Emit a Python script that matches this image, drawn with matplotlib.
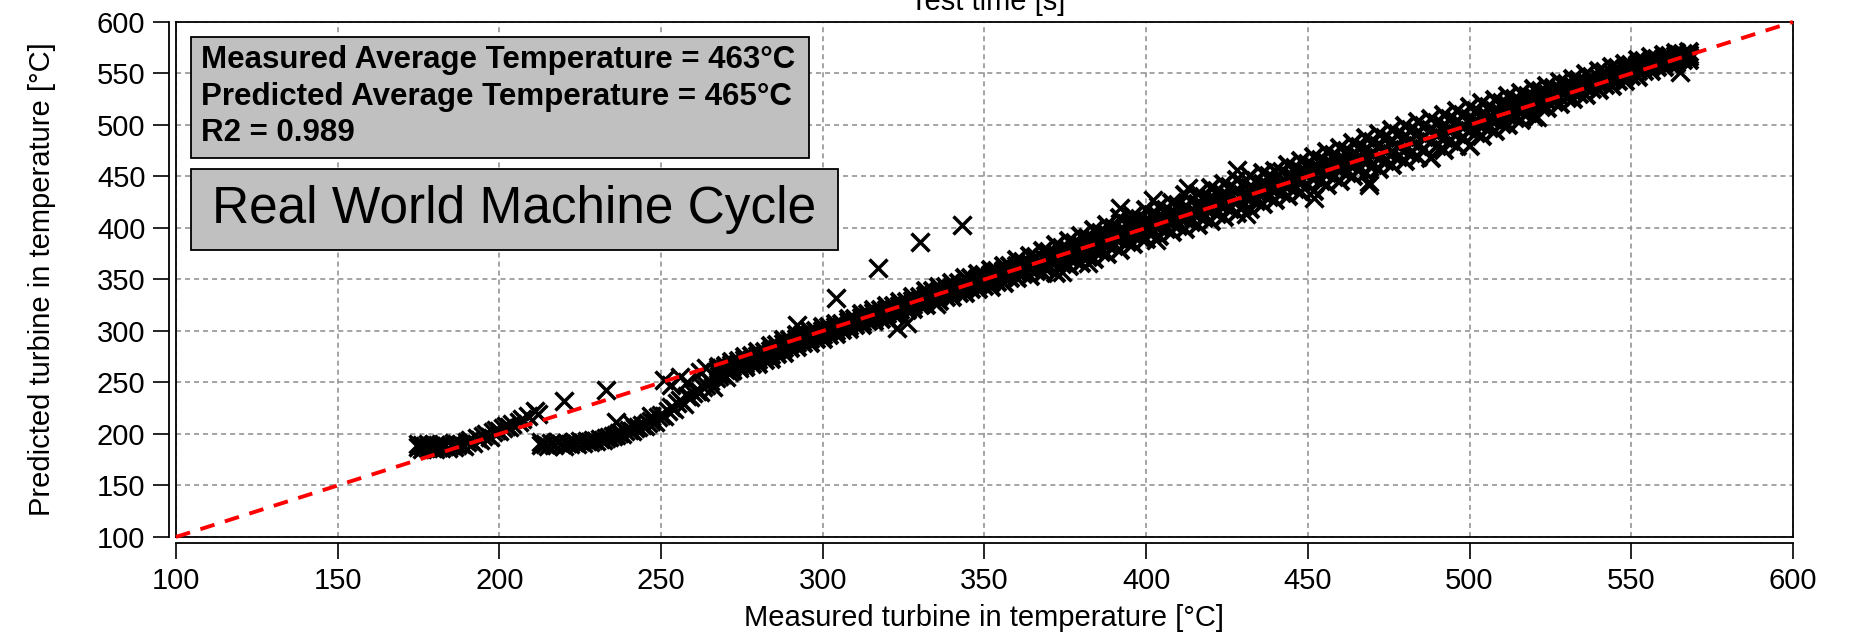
import matplotlib
matplotlib.use('Agg')
import matplotlib.pyplot as plt
from matplotlib.patches import Rectangle

plt.rcParams['font.family'] = 'Liberation Sans'

# main band: measured temperature columns and four rows of predicted values
band_meas = [268, 272, 276, 280, 284, 288, 292, 296, 300, 304,
             308, 312, 316, 320, 324, 328, 332, 336, 340, 344,
             348, 352, 356, 360, 364, 368, 372, 376, 380, 384,
             388, 392, 396, 400, 404, 408, 412, 416, 420, 424,
             428, 432, 436, 440, 444, 448, 452, 456, 460, 464,
             468, 472, 476, 480, 484, 488, 492, 496, 500, 504,
             508, 512, 516, 520, 524, 528, 532, 536, 540, 544,
             548, 552, 556, 560, 564, 568]
band_lo = [259, 262, 265, 268, 273, 279, 284, 288, 292, 297,
           302, 306, 310, 312, 316, 321, 325, 329, 333, 337,
           341, 343, 347, 351, 353, 356, 356, 363, 366, 370,
           375, 379, 384, 389, 392, 396, 399, 403, 407, 411,
           415, 418, 423, 427, 431, 435, 436, 442, 446, 450,
           453, 457, 461, 465, 469, 468, 476, 480, 480, 489,
           494, 500, 505, 508, 516, 520, 525, 529, 534, 538,
           543, 547, 552, 556, 560, 563]
band_ml = [261, 265, 268, 272, 277, 283, 288, 292, 296, 300,
           305, 309, 313, 316, 320, 325, 330, 334, 338, 342,
           346, 348, 352, 357, 360, 363, 367, 371, 375, 379,
           384, 388, 393, 398, 401, 405, 409, 413, 418, 422,
           426, 429, 433, 437, 441, 445, 449, 453, 457, 461,
           464, 468, 472, 476, 480, 483, 487, 491, 494, 500,
           504, 509, 514, 519, 523, 527, 532, 536, 540, 544,
           548, 552, 557, 560, 563, 566]
band_mu = [263, 267, 272, 276, 281, 287, 292, 296, 300, 304,
           309, 313, 317, 320, 324, 329, 334, 338, 342, 346,
           350, 354, 358, 363, 366, 371, 375, 379, 383, 389,
           394, 398, 403, 408, 411, 415, 419, 423, 428, 432,
           436, 439, 443, 447, 451, 455, 459, 463, 467, 471,
           476, 480, 484, 488, 492, 495, 499, 503, 506, 510,
           514, 519, 522, 527, 531, 535, 538, 542, 546, 550,
           554, 558, 561, 564, 567, 568]
band_hi = [265, 270, 275, 280, 285, 291, 296, 300, 304, 307,
           312, 316, 320, 324, 328, 333, 339, 343, 347, 351,
           355, 359, 363, 369, 373, 378, 383, 387, 392, 398,
           403, 410, 412, 417, 420, 424, 432, 433, 439, 443,
           447, 450, 453, 455, 461, 465, 469, 474, 478, 482,
           487, 491, 495, 499, 503, 506, 510, 514, 517, 521,
           524, 528, 531, 535, 538, 542, 545, 549, 552, 556,
           559, 563, 566, 568, 570, 571]

# in-between columns of the band, three rows
band2_meas = [270, 274, 278, 282, 286, 290, 294, 298, 302, 306,
              310, 314, 318, 322, 326, 330, 334, 338, 342, 346,
              350, 354, 358, 362, 366, 370, 374, 378, 382, 386,
              390, 394, 398, 402, 406, 410, 414, 418, 422, 426,
              430, 434, 438, 442, 446, 450, 454, 458, 462, 466,
              470, 474, 478, 482, 486, 490, 494, 498, 502, 506,
              510, 514, 518, 522, 526, 530, 534, 538, 542, 546,
              550, 554, 558, 562, 566]
band2_lo = [262, 265, 268, 272, 278, 283, 288, 292, 296, 301,
            306, 310, 312, 316, 320, 325, 329, 333, 337, 341,
            344, 348, 351, 355, 358, 361, 365, 369, 372, 377,
            382, 386, 391, 395, 399, 402, 406, 410, 414, 418,
            421, 426, 430, 434, 438, 442, 446, 449, 453, 457,
            461, 465, 469, 473, 477, 480, 484, 488, 492, 497,
            501, 507, 512, 517, 522, 526, 530, 535, 539, 543,
            548, 552, 556, 559, 563]
band2_mid = [264, 268, 272, 276, 282, 287, 292, 296, 300, 304,
             309, 313, 316, 320, 324, 329, 334, 338, 342, 346,
             349, 353, 357, 361, 365, 369, 373, 377, 381, 386,
             391, 395, 400, 404, 408, 412, 416, 420, 425, 429,
             432, 436, 440, 444, 448, 452, 456, 460, 464, 468,
             472, 476, 480, 484, 488, 491, 495, 499, 503, 507,
             511, 516, 520, 525, 529, 533, 537, 541, 545, 549,
             553, 557, 560, 563, 566]
band2_hi = [266, 271, 276, 280, 286, 291, 296, 300, 304, 307,
            312, 316, 320, 324, 328, 333, 339, 343, 347, 351,
            354, 358, 363, 367, 372, 377, 381, 385, 390, 395,
            400, 404, 409, 413, 417, 422, 426, 430, 436, 440,
            443, 446, 450, 454, 458, 462, 466, 471, 475, 479,
            483, 487, 491, 495, 499, 502, 506, 510, 514, 517,
            521, 525, 528, 533, 536, 540, 544, 547, 551, 555,
            558, 562, 564, 567, 569]

# stray points around the band
stray_meas = [374, 382, 403, 431, 452, 469, 469, 521, 565, 335, 323, 326,
              392, 402, 413, 428]
stray_pred = [357, 366, 388, 414, 429, 442, 445, 508, 551, 326, 303, 308,
              419, 427, 439, 456]

# upper left track
low_a_meas = [175, 175, 176, 177, 178, 178, 179, 180, 180, 181,
              182, 182, 183, 184, 185, 186, 186, 187, 188, 189,
              190, 191, 192, 193, 194, 195, 196, 197, 198, 199,
              200, 201, 202, 203, 204, 206, 207, 209, 211, 212,
              220, 233, 176, 179, 183]
low_a_pred = [187, 190, 185, 188, 186, 190, 187, 185, 189, 187,
              186, 190, 188, 186, 189, 187, 191, 189, 190, 188,
              192, 194, 191, 196, 194, 198, 200, 197, 202, 204,
              203, 206, 208, 207, 210, 212, 215, 217, 222, 219,
              232, 243, 189, 188, 189]

# lower track
low_b_meas = [213, 213, 214, 215, 216, 217, 218, 219, 220, 221,
              222, 223, 224, 225, 226, 227, 228, 229, 230, 231,
              232, 233, 234, 235, 236, 237, 238, 239, 240, 241,
              242, 243, 244, 245, 246, 247, 248, 249, 250, 251,
              252, 253, 254, 255, 256, 257, 258, 259, 260, 261,
              262, 263, 264, 265, 266, 267, 268, 269, 270, 271,
              272, 274, 276, 251, 253, 256, 258, 261, 262, 264,
              236, 241, 247]
low_b_pred = [189, 192, 190, 188, 191, 189, 192, 190, 188, 191,
              190, 192, 190, 193, 191, 193, 192, 194, 193, 195,
              194, 196, 197, 198, 199, 201, 200, 203, 204, 203,
              206, 207, 209, 208, 211, 213, 212, 216, 218, 217,
              222, 226, 224, 230, 233, 229, 237, 236, 240, 243,
              241, 246, 248, 251, 246, 254, 256, 258, 255, 260,
              262, 264, 266, 252, 248, 255, 250, 242, 260, 264,
              212, 210, 217]

# isolated outliers above the line
out_meas = [292, 304, 317, 330, 343]
out_pred = [306, 332, 361, 386, 403]

ideal = [100, 600]
ticks = [100, 150, 200, 250, 300, 350, 400, 450, 500, 550, 600]

fig = plt.figure(figsize=(18.52, 6.36), dpi=100)
ax = fig.add_axes([0.0950, 0.1557, 0.8731, 0.8098])

mk = dict(ls='none', marker='x', color='k', ms=13, mew=2.5)
for row in (band_lo, band_ml, band_mu, band_hi):
    ax.plot(band_meas, row, **{**mk, 'mew': 2.9})
for row in (band2_lo, band2_mid, band2_hi):
    ax.plot(band2_meas, row, **{**mk, 'mew': 2.9})
ax.plot(stray_meas, stray_pred, **mk)
ax.plot(low_a_meas, low_a_pred, **mk)
ax.plot(low_b_meas, low_b_pred, **mk)
ax.plot(out_meas, out_pred, **mk)

ax.plot(ideal, ideal, color='red', lw=2.8, ls=(0, (3.8, 2.8)), zorder=5, clip_on=False)

ax.set_xlim(100, 600)
ax.set_ylim(100, 600)
ax.set_xticks(ticks)
ax.set_yticks(ticks)
ax.grid(True, color='0.55', linestyle=(0, (3.3, 2.6)), linewidth=1.1)
ax.set_axisbelow(True)

for s in ax.spines.values():
    s.set_linewidth(1.3)
ax.spines['left'].set_position(('outward', 5))
ax.spines['bottom'].set_position(('outward', 4.3))
ax.axvline(100, color='k', lw=1.3, clip_on=False)
ax.axhline(100, color='k', lw=1.3, clip_on=False)
ax.tick_params(direction='out', length=11.5, width=1.2, labelsize=21, pad=5.5,
               top=False, right=False)

ax.set_xlabel('Measured turbine in temperature [°C]', fontsize=21, labelpad=7)
ax.set_ylabel('Predicted turbine in temperature [°C]', fontsize=21, labelpad=29)
fig.text(0.5335, 0.9843, 'Test time [s]', ha='center', va='baseline', fontsize=21)

# info boxes
ax.add_patch(Rectangle((0.0093, 0.7359), 0.3822, 0.2350, transform=ax.transAxes,
                       facecolor='#c0c0c0', edgecolor='k', lw=1.3, zorder=6))
ax.add_patch(Rectangle((0.0093, 0.5573), 0.4001, 0.1573, transform=ax.transAxes,
                       facecolor='#c0c0c0', edgecolor='k', lw=1.3, zorder=6))
lines = ['Measured Average Temperature = 463°C',
         'Predicted Average Temperature = 465°C',
         'R2 = 0.989']
for txt, yy in zip(lines, [0.9107, 0.8388, 0.7689]):
    ax.text(0.0155, yy, txt, transform=ax.transAxes, fontsize=22.5, fontweight='bold',
            va='baseline', ha='left', zorder=7)
ax.text(0.2093, 0.6100, 'Real World Machine Cycle', transform=ax.transAxes,
        fontsize=37, va='baseline', ha='center', zorder=7)

fig.savefig('out.png', dpi=100)
